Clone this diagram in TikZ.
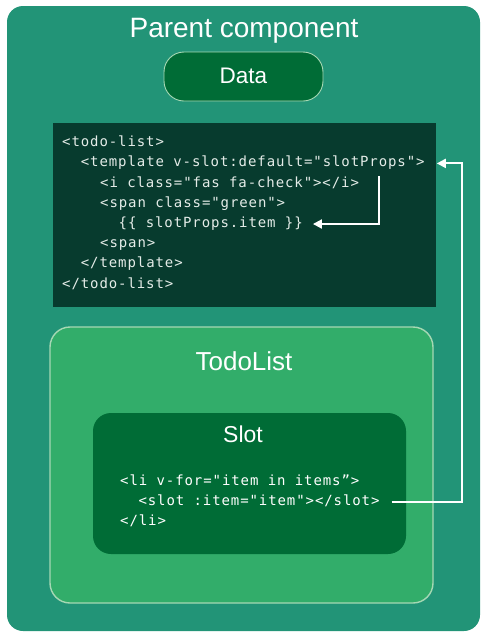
\documentclass[tikz,border=0pt]{standalone}
\usepackage{fontspec}
\setmainfont{Liberation Sans}
\newfontfamily\codefont[LetterSpace=6.5]{DejaVu Sans Mono}
\usetikzlibrary{arrows.meta}
\definecolor{outerc}{HTML}{229477}
\definecolor{todoc}{HTML}{32AD6A}
\definecolor{darkg}{HTML}{006C36}
\definecolor{codebg}{HTML}{073B2E}
\definecolor{lineg}{HTML}{A6D8B4}
\definecolor{codetxt}{HTML}{E4ECE8}
\tikzset{
  box/.style={shape=rectangle, inner sep=0pt, outer sep=0pt},
  title/.style={anchor=base, text=white, inner sep=0pt},
  codeline/.style={anchor=base west, inner sep=0pt, text=codetxt, text height=10pt, text depth=3pt,
    font=\codefont\fontsize{14}{16}\selectfont},
  arr/.style={draw=white, line width=2pt, -{Triangle[length=9pt,width=9pt]}},
  wire/.style={draw=white, line width=2pt}
}
\begin{document}
\begin{tikzpicture}[x=1pt,y=-1pt]
\useasboundingbox (0,0) rectangle (488,635);
% boxes
\node[box, fill=outerc, minimum width=473pt, minimum height=625pt, rounded corners=16pt] (outer) at (243.5,318.5) {};
\node[box, fill=darkg, draw=lineg, line width=0.9pt, minimum width=159pt, minimum height=49pt, rounded corners=20pt] (data) at (243.5,76.5) {};
\node[box, fill=codebg, minimum width=383pt, minimum height=184pt] (code) at (244.5,215) {};
\node[box, fill=todoc, draw=lineg, line width=1.4pt, minimum width=383pt, minimum height=276pt, rounded corners=20pt] (todo) at (241.5,465) {};
\node[box, fill=darkg, minimum width=313pt, minimum height=141pt, rounded corners=18pt] (slot) at (249.5,483.5) {};
% titles
\node[title, font=\fontsize{28}{31}\selectfont] (ptitle) at (244,37) {Parent component};
\node[title, font=\fontsize{22.5}{26}\selectfont] (dtitle) at (243.5,83.5) {Data};
\node[title, font=\fontsize{26}{30}\selectfont] (ttitle) at (244,370) {TodoList};
\node[title, font=\fontsize{23}{26}\selectfont] (stitle) at (243,442) {Slot};
% code in parent
\node[codeline] (c1) at (62,146.7) {<todo-list>};
\node[codeline] (c2) at (80.7,166.9) {<template v-slot:default="slotProps">};
\node[codeline] (c3) at (100,187.1) {<i class="fas fa-check"></i>};
\node[codeline] (c4) at (100,207.3) {<span class="green">};
\node[codeline] (c5) at (118.5,227.5) {\{\{ slotProps.item \}\}};
\node[codeline] (c6) at (100,247.7) {<span>};
\node[codeline] (c7) at (80.7,267.9) {</template>};
\node[codeline] (c8) at (62,288.1) {</todo-list>};
% code in slot
\node[codeline, text=white] (s1) at (120,485) {<li v-for="item in items”>};
\node[codeline, text=white] (s2) at (138.3,505) {<slot :item="item"></slot>};
\node[codeline, text=white] (s3) at (120,525) {</li>};
% connectors
\coordinate (rail) at (462,0);
\coordinate (drop) at (379,176);
\draw[arr] ([xshift=12pt]s2.east) -| (rail |- c2.east) -- ([xshift=12pt]c2.east);
\draw[arr] (drop) |- ([xshift=10pt]c5.east);
\end{tikzpicture}
\end{document}
